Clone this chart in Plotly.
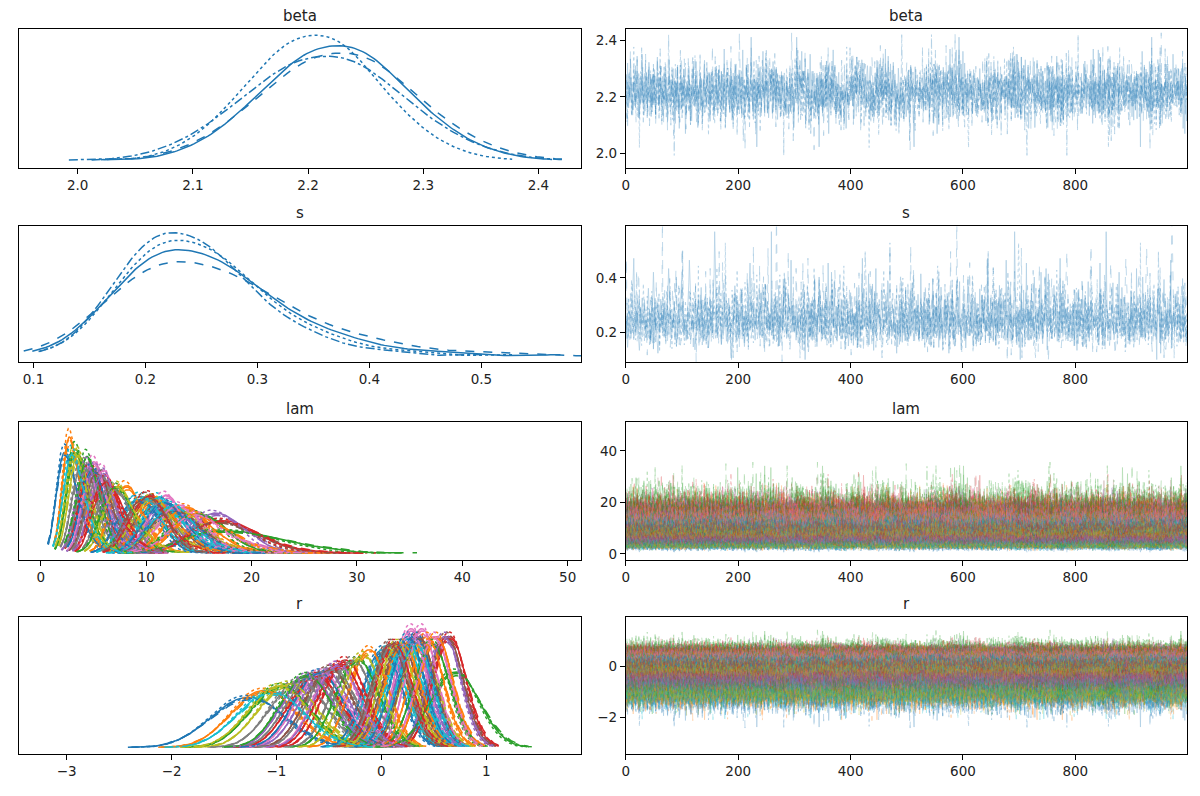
import numpy as np
import plotly.graph_objects as go

# standardised draw sequence shared by all chains / coordinates
z_draws = [
    0.31, 0.84, 1.22, 0.57, -0.18, -0.93, -0.41, 0.12, 0.69, 1.53,
    1.07, 0.22, -0.48, -1.31, -1.84, -0.97, -0.29, 0.43, 0.18, -0.62,
    -1.12, -0.55, 0.08, 0.91, 1.76, 2.31, 1.42, 0.63, -0.07, -0.71,
    -0.24, 0.36, -0.19, -0.88, -1.47, -2.12, -1.38, -0.66, 0.05, 0.47,
    1.02, 0.58, -0.13, 0.29, 0.95, 0.41, -0.36, -1.05, -0.52, 0.16,
    0.74, 1.38, 0.86, 0.03, -0.61, -1.24, -0.79, -0.11, 0.52, 1.19,
    1.91, 1.27, 0.49, -0.26, 0.14, -0.45, -1.02, -1.66, -2.41, -1.53,
    -0.82, -0.17, 0.39, 0.97, 0.44, -0.21, -0.73, -0.34, 0.25, 0.81,
    0.37, -0.28, -0.95, -0.51, 0.09, 0.66, 1.34, 2.02, 1.48, 0.72,
    0.11, -0.58, -1.19, -0.67, 0.01, -0.39, 0.27, 0.88, 0.33, -0.44,
    -1.08, -1.71, -1.16, -0.49, 0.21, 0.78, 0.35, -0.16, 0.59, 1.13,
    1.64, 0.99, 0.32, -0.35, -0.96, -0.43, 0.07, -0.54, -1.27, -0.86,
    -0.23, 0.46, 1.08, 1.57, 2.26, 1.61, 0.83, 0.19, -0.47, -0.14,
    0.28, -0.31, -0.99, -1.58, -2.07, -1.29, -0.63, 0.04, 0.61, 0.26,
    -0.38, -0.81, -0.27, 0.34, 0.92, 1.41, 0.77, 0.15, -0.42, -1.11,
    -0.69, -0.06, 0.55, 1.16, 0.71, 0.13, -0.53, -1.21, -1.89, -1.34,
    -0.74, -0.15, 0.42, 0.06, -0.46, 0.17, 0.79, 1.29, 1.86, 2.97,
    1.68, 0.96, 0.38, -0.22, -0.84, -0.37, 0.23, 0.67, 0.20, -0.57,
    -1.14, -1.62, -0.91, -0.32, 0.26, 0.84, 1.24, 0.64, 0.02, -0.65,
    -1.33, -0.77, -0.10, 0.48, 1.01, 0.54, -0.09, -0.78, -1.41, -3.15,
    -1.72, -0.98, -0.30, 0.30, 0.89, 1.47, 1.03, 0.45, -0.16, 0.37,
    0.94, 0.50, -0.20, -0.87, -0.40, 0.19, 0.73, 1.32, 0.80, 0.10,
    -0.50, -1.17, -1.77, -1.06, -0.44, 0.13, -0.33, -0.92, -0.25, 0.40,
    1.05, 1.71, 2.18, 1.36, 0.60, -0.05, -0.68, -0.12, 0.53, 0.00,
    -0.60, -1.25, -0.72, -0.08, 0.51, 1.14, 0.62, -0.02, 0.44, -0.35,
]
n_draws = 1000

chain_dash = ["solid", "dash", "dot", "dashdot"]
chain_offset = [0, 63, 127, 191]

beta_chain_mean = [2.224, 2.227, 2.205, 2.214]
beta_chain_sd = [0.060, 0.064, 0.055, 0.066]

s_chain_median = [0.245, 0.250, 0.242, 0.236]
s_chain_logsd = [0.27, 0.30, 0.25, 0.24]

r_mean = [-1.27, -1.12, -0.96, -0.63, -0.54, 0.18, -0.43, -0.79, -0.89, 0.22,
          0.01, -0.12, -0.23, -0.39, 0.30, 0.62, 0.28, -0.66, 0.36, 0.05,
          0.33, 0.43, 0.48, 0.65, 0.60, -0.50, -0.58, 0.10, -0.98, 0.25,
          -0.60, 0.20, 0.70, -0.35, -0.70, 0.35, 0.38, -0.47, 0.15, 0.32,
          0.25, 0.52, -0.72, 0.12, -0.42, 0.08, 0.50, -0.28, -0.18, -1.05]
r_sd = [0.33, 0.29, 0.27, 0.23, 0.22, 0.16, 0.20, 0.25, 0.26, 0.16,
        0.17, 0.17, 0.19, 0.20, 0.15, 0.15, 0.14, 0.23, 0.16, 0.17,
        0.15, 0.15, 0.16, 0.15, 0.15, 0.21, 0.22, 0.16, 0.27, 0.16,
        0.22, 0.16, 0.22, 0.19, 0.23, 0.15, 0.14, 0.21, 0.16, 0.16,
        0.15, 0.15, 0.23, 0.16, 0.20, 0.16, 0.15, 0.19, 0.18, 0.30]
r_chain_shift = [0.0, 0.05, -0.05, 0.03]
r_chain_scale = [1.0, 1.05, 0.96, 1.02]

tab10 = ["#1f77b4", "#ff7f0e", "#2ca02c", "#d62728", "#9467bd",
         "#8c564b", "#e377c2", "#7f7f7f", "#bcbd22", "#17becf"]

z = np.array(z_draws)
z = (z - z.mean()) / z.std()
n = len(z)
k = np.arange(n)
draw = np.arange(n_draws, dtype=np.int32)


def chain_seq(offset, steps):
    # walk the shared draw list several times in different orders
    parts = [z[(offset + 41 * p + st * k) % n] for p, st in enumerate(steps)]
    return np.concatenate(parts)[:n_draws]


def kde(vals, npts=160, bw=1.7):
    vals = np.asarray(vals)
    iqr = np.subtract(*np.percentile(vals, [75, 25]))
    h = bw * 0.9 * min(vals.std(), iqr / 1.34) * len(vals) ** -0.2
    grid = np.linspace(vals.min(), vals.max(), npts)
    d = np.exp(-0.5 * ((grid[:, None] - vals[None, :]) / h) ** 2).sum(1)
    return grid, d / (len(vals) * h * np.sqrt(2 * np.pi))


mix = [3, 7, 9, 11]
beta = [beta_chain_mean[c] + beta_chain_sd[c] * chain_seq(chain_offset[c], mix) for c in range(4)]
s = [s_chain_median[c] * np.exp(s_chain_logsd[c] * chain_seq(chain_offset[c] + 11, [1, 13, 3, 17][c:] + [1, 13, 3, 17][:c]))
     for c in range(4)]
r = [[r_mean[i] + r_sd[i] * (r_chain_shift[c] + r_chain_scale[c] * chain_seq(chain_offset[c] + 29 * i, mix))
      for i in range(len(r_mean))] for c in range(4)]
lam = [[np.exp(beta[c] + r[c][i]) for i in range(len(r_mean))] for c in range(4)]

fig = go.Figure()
kde_max = {}


def add_pair(vals, color, dash, row):
    ax_l = "" if row == 0 else str(2 * row + 1)
    ax_r = str(2 * row + 2)
    g, d = kde(vals)
    kde_max[row] = max(kde_max.get(row, 0), d.max())
    fig.add_trace(go.Scatter(x=g, y=d, mode="lines", xaxis="x" + ax_l, yaxis="y" + ax_l,
                             line=dict(color=color, width=1.5, dash=dash),
                             showlegend=False, hoverinfo="skip"))
    fig.add_trace(go.Scatter(x=draw, y=np.asarray(vals, dtype=np.float32), mode="lines",
                             xaxis="x" + ax_r, yaxis="y" + ax_r,
                             line=dict(color=color, width=0.8, dash=dash), opacity=0.35,
                             showlegend=False, hoverinfo="skip"))


for c in range(4):
    add_pair(beta[c], tab10[0], chain_dash[c], 0)
for c in range(4):
    add_pair(s[c], tab10[0], chain_dash[c], 1)
for c in range(4):
    for i in range(len(r_mean)):
        add_pair(lam[c][i], tab10[i % 10], chain_dash[c], 2)
for c in range(4):
    for i in range(len(r_mean)):
        add_pair(r[c][i], tab10[i % 10], chain_dash[c], 3)

titles = ["beta", "s", "lam", "r"]
rows_dom = [(0.799, 0.9736), (0.554, 0.7249), (0.3053, 0.4786), (0.0603, 0.2324)]
left_dom = (0.0058, 0.4758)
right_dom = (0.5133, 0.9825)
left_x = [dict(range=[1.949, 2.437], dtick=0.1, tickformat=".1f"),
          dict(range=[0.087, 0.589], dtick=0.1, tickformat=".1f"),
          dict(range=[-2.07, 51.27], dtick=10),
          dict(range=[-3.456, 1.904], dtick=1)]
right_y = [dict(range=[1.949, 2.441], dtick=0.2, tickformat=".1f"),
           dict(range=[0.0896, 0.590], dtick=0.2, tickformat=".1f"),
           dict(range=[-2.2, 51.26], dtick=20),
           dict(range=[-3.44, 1.92], dtick=2)]

base = dict(showline=True, mirror=True, linecolor="black", linewidth=1, ticks="outside",
            ticklen=5, tickcolor="black", showgrid=False, zeroline=False,
            tickfont=dict(family="DejaVu Sans", size=13.5, color="#222"))

ann = []
for row in range(4):
    il = 2 * row + 1
    ir = 2 * row + 2
    nl = "" if il == 1 else str(il)
    m = kde_max[row]
    fig.layout["xaxis" + nl] = dict(base, domain=left_dom, anchor="y" + nl, **left_x[row])
    fig.layout["yaxis" + nl] = dict(base, domain=rows_dom[row], anchor="x" + nl,
                                    range=[-0.05 * m, 1.05 * m], showticklabels=False, ticks="")
    fig.layout["xaxis" + str(ir)] = dict(base, domain=right_dom, anchor="y" + str(ir),
                                         range=[0, 999], dtick=200, tick0=0)
    fig.layout["yaxis" + str(ir)] = dict(base, domain=rows_dom[row], anchor="x" + str(ir), **right_y[row])
    for dom in (left_dom, right_dom):
        ann.append(dict(text=titles[row], x=(dom[0] + dom[1]) / 2, y=rows_dom[row][1],
                        xref="paper", yref="paper", xanchor="center", yanchor="bottom",
                        yshift=2, showarrow=False,
                        font=dict(family="DejaVu Sans", size=15, color="#222")))

fig.update_layout(width=1200, height=796, margin=dict(l=0, r=0, t=0, b=0),
                  paper_bgcolor="white", plot_bgcolor="white", annotations=ann,
                  hovermode=False)
fig.write_html("out.html")
